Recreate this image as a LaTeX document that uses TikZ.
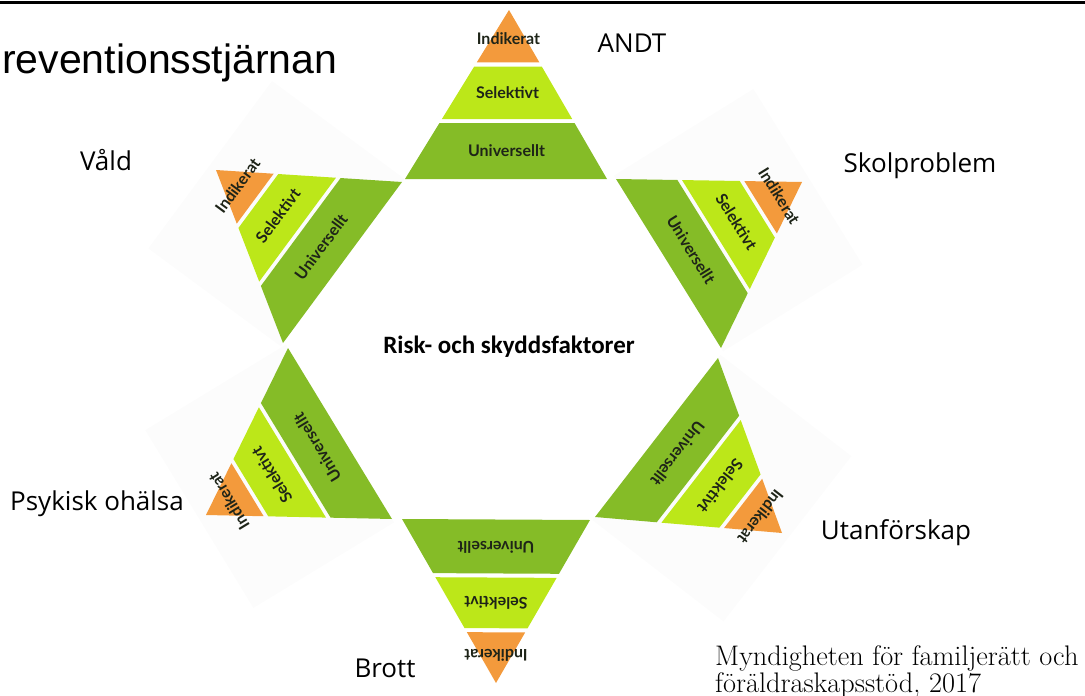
\documentclass[tikz,border=0pt]{standalone}
\usepackage{fontspec}
\usetikzlibrary{calc}
\newfontfamily\titlefont{Liberation Sans}
\newfontfamily\labelfont{Open Sans}
\newfontfamily\bandfont{Lato}
\newfontfamily\mittfont{Carlito}

\definecolor{indikorange}{HTML}{F39A3C}
\definecolor{selekgreen}{HTML}{BCE719}
\definecolor{univgreen}{HTML}{85BC27}
\definecolor{bandtext}{HTML}{1E2418}
\definecolor{bgshade}{HTML}{FCFCFC}

\tikzset{
  bandlabel/.style={font=\bandfont\bfseries\fontsize{16}{16}\selectfont, text=bandtext, inner sep=0pt, sloped, allow upside down},
  arealabel/.style={font=\labelfont\fontsize{26}{26}\selectfont, anchor=base, inner sep=0pt},
}

\begin{document}
\begin{tikzpicture}[x=1pt,y=-1pt]
\useasboundingbox (0,0) rectangle (1085,696);
\draw[line width=3pt] (0,2.5) -- (1085,2.5);

% apex, left and right base corner of each pyramid
\foreach \nm/\ax/\ay/\lx/\ly/\rx/\ry in {andt/509/10/405/179/607/179, vald/216/170/283/343/402/182, skol/802/182/616/179/721/348, psyk/206/515/392/519/288/348, utan/782/533/718/358/595/517, brott/496/683/590/520/402/519}{
  \coordinate (\nm-a) at (\ax,\ay);
  \coordinate (\nm-l) at (\lx,\ly);
  \coordinate (\nm-r) at (\rx,\ry);
}

% faint picture backgrounds
\foreach \nm in {vald,skol,psyk,utan}{
  \coordinate (\nm-f) at ($(\nm-l)!(\nm-a)!(\nm-r)$);
  \coordinate (\nm-up) at ($1.05*(\nm-a)-1.05*(\nm-f)$);
  \fill[bgshade] ($(\nm-l)!-0.02!(\nm-r)$) -- ($(\nm-l)!1.02!(\nm-r)$)
    -- ($(\nm-l)!1.02!(\nm-r)+(\nm-up)$) -- ($(\nm-l)!-0.02!(\nm-r)+(\nm-up)$) -- cycle;
}

\foreach \nm in {andt,vald,skol,psyk,utan,brott}{
  \fill[indikorange] (\nm-a) -- ($(\nm-a)!.31!(\nm-l)$) -- ($(\nm-a)!.31!(\nm-r)$) -- cycle;
  \fill[selekgreen] ($(\nm-a)!.335!(\nm-l)$) -- ($(\nm-a)!.645!(\nm-l)$) -- ($(\nm-a)!.645!(\nm-r)$) -- ($(\nm-a)!.335!(\nm-r)$) -- cycle;
  \fill[univgreen] ($(\nm-a)!.67!(\nm-l)$) -- (\nm-l) -- (\nm-r) -- ($(\nm-a)!.67!(\nm-r)$) -- cycle;
  \path ($(\nm-a)!.17!(\nm-l)$) -- node[bandlabel] (\nm-i) {Indikerat} ($(\nm-a)!.17!(\nm-r)$);
  \path ($(\nm-a)!.49!(\nm-l)$) -- node[bandlabel] (\nm-s) {Selektivt} ($(\nm-a)!.49!(\nm-r)$);
  \path ($(\nm-a)!.83!(\nm-l)$) -- node[bandlabel] (\nm-u) {Universellt} ($(\nm-a)!.83!(\nm-r)$);
}

\node[font=\titlefont\fontsize{41}{41}\selectfont, anchor=base west, inner sep=0pt] (titel) at (2,73) {reventionsstjärnan};
\node[font=\mittfont\bfseries\fontsize{25}{25}\selectfont, anchor=base] (mitt) at (509,353) {Risk- och skyddsfaktorer};

\node[arealabel] (lbl-andt) at (632,52) {ANDT};
\node[arealabel] (lbl-vald) at (106,170) {Våld};
\node[arealabel] (lbl-skol) at (920,172) {Skolproblem};
\node[arealabel] (lbl-psyk) at (97,510) {Psykisk ohälsa};
\node[arealabel] (lbl-utan) at (896,539) {Utanförskap};
\node[arealabel] (lbl-brott) at (385,677) {Brott};

\node[font=\fontsize{28.3}{28.3}\selectfont, anchor=base west, inner sep=0pt] (kalla1) at (715,665) {Myndigheten för familjerätt och};
\node[font=\fontsize{28.3}{28.3}\selectfont, anchor=base west, inner sep=0pt] (kalla2) at (715,692) {föräldraskapsstöd, 2017};
\end{tikzpicture}
\end{document}
